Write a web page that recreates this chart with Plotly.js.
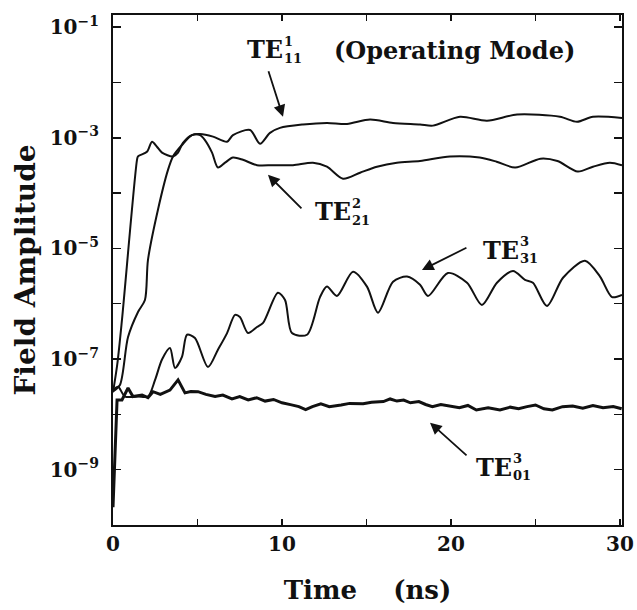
<!DOCTYPE html>
<html>
<head>
<meta charset="utf-8">
<script src="https://cdn.plot.ly/plotly-3.0.1.min.js"></script>
<style>html,body{margin:0;padding:0;background:#fff;}#chart{width:637px;height:610px;}</style>
</head>
<body>
<div id="chart"></div>
<script>
// ---- data (time in ns, field amplitude) ----
const te11Time = [0, 0.41, 0.89, 1.48, 1.89, 2.07, 2.66, 3.25, 3.55, 4.08, 4.67, 5.15, 5.92, 6.75, 7.10, 8.11, 8.70, 9.29, 9.88, 11.24, 12.66, 13.85, 15.21, 16.57, 18.17, 18.93, 20.53, 22.13, 23.91, 26.45, 27.46, 28.40, 30.12];
const te11Amp = [2.6e-8, 3.4e-8, 2.5e-7, 7.1e-7, 1.17e-6, 6.2e-6, 5.0e-5, 2.6e-4, 4.6e-4, 7.4e-4, 1.12e-3, 1.17e-3, 1.05e-3, 8.5e-4, 1.12e-3, 1.38e-3, 7.8e-4, 1.23e-3, 1.51e-3, 1.74e-3, 1.86e-3, 1.78e-3, 2.14e-3, 1.86e-3, 1.74e-3, 1.66e-3, 2.4e-3, 2.04e-3, 2.63e-3, 2.4e-3, 1.95e-3, 2.4e-3, 2.29e-3];

const te21Time = [0, 0.25, 0.53, 1.42, 1.48, 2.01, 2.31, 2.60, 2.90, 3.55, 3.85, 4.14, 4.67, 5.15, 5.44, 5.86, 6.21, 6.63, 7.10, 7.69, 8.52, 9.47, 10.65, 11.83, 12.66, 13.61, 14.62, 15.62, 16.80, 18.17, 19.94, 21.7, 22.7, 23.8, 25.3, 26.3, 27.5, 28.4, 29.4, 30.12];
const te21Amp = [2.5e-8, 7.9e-8, 5.1e-7, 3.98e-4, 4.6e-4, 5.6e-4, 8.5e-4, 6.9e-4, 5.4e-4, 4.6e-4, 5.4e-4, 8.1e-4, 1.12e-3, 1.12e-3, 9.1e-4, 5.4e-4, 2.9e-4, 3.55e-4, 4.4e-4, 4.0e-4, 3.2e-4, 3.2e-4, 3.2e-4, 3.55e-4, 3.0e-4, 1.82e-4, 2.34e-4, 3.0e-4, 3.55e-4, 3.8e-4, 4.6e-4, 4.4e-4, 3.7e-4, 2.9e-4, 4.2e-4, 3.8e-4, 2.45e-4, 3.0e-4, 3.55e-4, 3.2e-4];

const te31Time = [0, 0.30, 0.71, 1.48, 2.07, 2.49, 2.90, 3.37, 3.67, 4.08, 4.38, 4.85, 5.62, 6.21, 6.75, 7.22, 7.51, 7.99, 8.52, 8.88, 9.76, 10.18, 10.59, 11.48, 12.25, 12.66, 13.25, 14.20, 15.03, 15.68, 16.57, 17.40, 18.17, 18.64, 19.82, 20.95, 21.83, 22.72, 23.67, 24.38, 24.85, 25.68, 26.63, 27.93, 28.82, 29.53, 30.12];
const te31Amp = [2.75e-8, 3.16e-8, 2.1e-8, 2.1e-8, 2.1e-8, 4.2e-8, 9.8e-8, 1.58e-7, 6.9e-8, 1.1e-7, 2.75e-7, 2.4e-7, 7.2e-8, 1.48e-7, 2.95e-7, 6.3e-7, 5.75e-7, 2.95e-7, 3.8e-7, 4.5e-7, 1.58e-6, 1.17e-6, 2.95e-7, 2.75e-7, 1.32e-6, 2.04e-6, 1.38e-6, 3.8e-6, 2.04e-6, 6.9e-7, 2.5e-6, 3.1e-6, 2.2e-6, 1.38e-6, 3.6e-6, 2.4e-6, 9.5e-7, 2.4e-6, 3.9e-6, 2.7e-6, 2.4e-6, 9.1e-7, 2.95e-6, 6.0e-6, 3.1e-6, 1.32e-6, 1.45e-6];

const te01Time = [0, 0.12, 0.24, 0.53, 0.89, 1.18, 1.72, 2.07, 2.37, 2.8, 3.37, 3.85, 4.26, 4.6, 5.03, 5.5, 6.04, 6.5, 7.04, 7.5, 8.0, 8.5, 9.0, 9.5, 10.0, 10.5, 11.0, 11.4, 11.8, 12.3, 12.8, 13.5, 14.0, 14.8, 15.3, 16.0, 16.4, 16.8, 17.2, 17.6, 18.1, 18.5, 18.9, 19.4, 20.0, 20.5, 21.0, 21.5, 22.2, 22.9, 23.5, 24.0, 24.5, 25.0, 25.5, 26.0, 26.6, 27.2, 27.8, 28.4, 29.0, 29.6, 30.1];
const te01Amp = [2.1e-10, 2.3e-9, 1.82e-8, 1.82e-8, 3.0e-8, 2.1e-8, 2.24e-8, 2.0e-8, 2.57e-8, 2.3e-8, 2.75e-8, 4.2e-8, 2.45e-8, 2.6e-8, 2.57e-8, 2.3e-8, 2.1e-8, 2.24e-8, 1.9e-8, 2.1e-8, 1.82e-8, 2.0e-8, 1.74e-8, 1.86e-8, 1.62e-8, 1.5e-8, 1.38e-8, 1.22e-8, 1.38e-8, 1.55e-8, 1.38e-8, 1.48e-8, 1.58e-8, 1.55e-8, 1.66e-8, 1.7e-8, 1.9e-8, 1.74e-8, 1.82e-8, 1.62e-8, 1.7e-8, 1.51e-8, 1.38e-8, 1.51e-8, 1.41e-8, 1.32e-8, 1.45e-8, 1.2e-8, 1.32e-8, 1.2e-8, 1.35e-8, 1.26e-8, 1.38e-8, 1.48e-8, 1.26e-8, 1.2e-8, 1.38e-8, 1.41e-8, 1.29e-8, 1.45e-8, 1.32e-8, 1.38e-8, 1.26e-8];

const xTickVals = [0, 10, 20, 30];
const xTickText = ['0', '10', '20', '30'];
const xMinorVals = [5, 15, 25];
const yTickVals = [1e-1, 1e-3, 1e-5, 1e-7, 1e-9];
const yTickText = ['10<sup>−1</sup>', '10<sup>−3</sup>', '10<sup>−5</sup>', '10<sup>−7</sup>', '10<sup>−9</sup>'];
const yMinorVals = [1e-2, 1e-4, 1e-6, 1e-8];

// ---- layout helpers ----
const W = 637, H = 610;
const M = {l: 113, r: 15, t: 15, b: 85};
const pw = W - M.l - M.r, ph = H - M.t - M.b;
const px = x => (x - M.l) / pw;
const py = y => (H - M.b - y) / ph;

const FONT = 'DejaVu Serif, Liberation Serif, serif';
const lineStyle = {color: '#111', width: 2, shape: 'spline', smoothing: 0.8};

const traces = [
  {x: te11Time, y: te11Amp, mode: 'lines', name: 'TE11', line: lineStyle},
  {x: te21Time, y: te21Amp, mode: 'lines', name: 'TE21', line: lineStyle},
  {x: te31Time, y: te31Amp, mode: 'lines', name: 'TE31', line: lineStyle},
  {x: te01Time, y: te01Amp, mode: 'lines', name: 'TE01', line: {color: '#111', width: 3}}
];

function modeLabel(xPix, yPix, sup, sub) {
  const f = {family: FONT, size: 24, color: '#111', weight: 'bold'};
  const fs = {family: FONT, size: 13, color: '#111', weight: 'bold'};
  return [
    {xref: 'paper', yref: 'paper', x: px(xPix), y: py(yPix), text: 'TE', showarrow: false, xanchor: 'left', yanchor: 'middle', font: f},
    {xref: 'paper', yref: 'paper', x: px(xPix + 37), y: py(yPix - 9), text: sup, showarrow: false, xanchor: 'left', yanchor: 'middle', font: fs},
    {xref: 'paper', yref: 'paper', x: px(xPix + 37), y: py(yPix + 8), text: sub, showarrow: false, xanchor: 'left', yanchor: 'middle', font: fs}
  ];
}

function arrow(t, logAmp, ax, ay) {
  return {x: t, y: logAmp, xref: 'x', yref: 'y', text: '', showarrow: true, arrowhead: 2, arrowsize: 1.3, arrowwidth: 1.8, arrowcolor: '#111', ax: ax, ay: ay};
}

const annotations = [].concat(
  modeLabel(245, 50, '1', '11'),
  [{xref: 'paper', yref: 'paper', x: px(332), y: py(51), text: '(Operating Mode)', showarrow: false, xanchor: 'left', yanchor: 'middle', font: {family: FONT, size: 24, color: '#111', weight: 'bold'}}],
  modeLabel(313, 212, '2', '21'),
  modeLabel(481, 250, '3', '31'),
  modeLabel(474, 467, '3', '01'),
  [
    arrow(10.06, -2.62, -15, -47),
    arrow(9.17, -3.67, 35, 35),
    arrow(18.28, -5.39, 46, -23),
    arrow(18.76, -8.15, 38, 34)
  ]
);

const layout = {
  width: W, height: H,
  margin: M,
  paper_bgcolor: '#fff', plot_bgcolor: '#fff',
  showlegend: false,
  font: {family: FONT, color: '#111'},
  xaxis: {
    range: [0, 30.12],
    tickmode: 'array', tickvals: xTickVals, ticktext: xTickText,
    ticks: 'inside', ticklen: 6, tickwidth: 1.5, tickcolor: '#111',
    minor: {tickmode: 'array', tickvals: xMinorVals, ticks: 'inside', ticklen: 6, tickwidth: 1.5, tickcolor: '#111', showgrid: false},
    showline: true, linewidth: 2, linecolor: '#111', mirror: 'ticks',
    showgrid: false, zeroline: false,
    tickfont: {family: FONT, size: 20, color: '#111', weight: 'bold'},
    title: {text: 'Time\u00a0\u00a0\u00a0\u00a0(ns)', font: {family: FONT, size: 26, color: '#111', weight: 'bold'}, standoff: 26}
  },
  yaxis: {
    type: 'log',
    range: [-10, -0.78],
    tickmode: 'array', tickvals: yTickVals, ticktext: yTickText,
    ticks: 'inside', ticklen: 8, tickwidth: 1.5, tickcolor: '#111',
    minor: {tickmode: 'array', tickvals: yMinorVals, ticks: 'inside', ticklen: 8, tickwidth: 1.5, tickcolor: '#111', showgrid: false},
    showline: true, linewidth: 2, linecolor: '#111', mirror: 'ticks',
    showgrid: false, zeroline: false,
    ticklabelstandoff: 8,
    tickfont: {family: FONT, size: 20, color: '#111', weight: 'bold'},
    title: {text: 'Field Amplitude', font: {family: FONT, size: 28, color: '#111', weight: 'bold'}, standoff: 6}
  },
  annotations: annotations
};

Plotly.newPlot('chart', traces, layout, {staticPlot: true, displayModeBar: false});
</script>
</body>
</html>
